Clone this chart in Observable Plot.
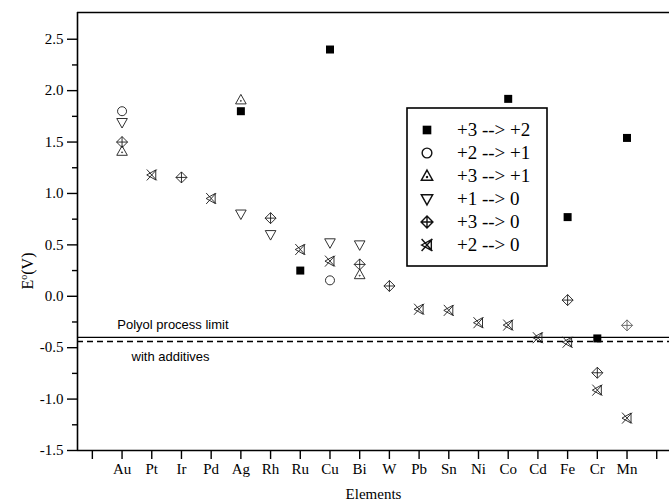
<!DOCTYPE html>
<html>
<head>
<meta charset="utf-8">
<script src="https://cdn.jsdelivr.net/npm/d3@7"></script>
<script src="https://cdn.jsdelivr.net/npm/@observablehq/plot@0.6"></script>
<style>
  html, body { margin: 0; padding: 0; background: #fff; }
  #chart { width: 669px; height: 503px; }
</style>
</head>
<body>
<div id="chart"></div>
<script>
// ---- data ----
const elements = ["Au","Pt","Ir","Pd","Ag","Rh","Ru","Cu","Bi","W","Pb","Sn","Ni","Co","Cd","Fe","Cr","Mn"];
const seriesNames = ["+3 --> +2", "+2 --> +1", "+3 --> +1", "+1 --> 0", "+3 --> 0", "+2 --> 0"];
//                 Au    Pt    Ir     Pd    Ag    Rh    Ru    Cu    Bi    W     Pb     Sn     Ni     Co     Cd     Fe     Cr     Mn
const s3to2  = [null, null, null,  null, 1.80, null, 0.25, 2.40, null, null, null,  null,  null,  1.92,  null,  0.77,  -0.41, 1.54];
const s2to1  = [1.80, null, null,  null, null, null, null, 0.155,null, null, null,  null,  null,  null,  null,  null,  null,  null];
const s3to1  = [1.41, null, null,  null, 1.91, null, null, null, 0.21, null, null,  null,  null,  null,  null,  null,  null,  null];
const s1to0  = [1.69, null, null,  null, 0.80, 0.60, null, 0.52, 0.50, null, null,  null,  null,  null,  null,  null,  null,  null];
const s3to0  = [1.50, null, 1.156, null, null, 0.76, null, null, 0.31, 0.10, null,  null,  null,  null,  null,  -0.037,-0.744,-0.283];
const s2to0  = [null, 1.18, null,  0.951,null, null, 0.455,0.342,null, null, -0.126,-0.137,-0.257,-0.28, -0.403,-0.447,-0.913,-1.185];
const polyolLimit = -0.40;
const additivesLimit = -0.44;
const yMajorTicks = [-1.5, -1.0, -0.5, 0.0, 0.5, 1.0, 1.5, 2.0, 2.5];
const yMinorTicks = [-1.25, -0.75, -0.25, 0.25, 0.75, 1.25, 1.75, 2.25];

const seriesValues = [s3to2, s2to1, s3to1, s1to0, s3to0, s2to0];

function rows(vals) {
  const out = [];
  vals.forEach((v, i) => { if (v != null) out.push({x: i + 1, y: v, el: elements[i]}); });
  return out;
}

const SERIF = "'Liberation Serif', 'Times New Roman', serif";
const SANS = "'Liberation Sans', Arial, sans-serif";

// ---- symbols ----
const symSquare = { draw(c) { c.rect(-4, -4, 8, 8); } };
const symCircle = { draw(c) { c.moveTo(4.5, 0); c.arc(0, 0, 4.5, 0, 2 * Math.PI); c.closePath(); } };
const symUp = { draw(c) {
  c.moveTo(0, -5.5); c.lineTo(5.3, 4); c.lineTo(-5.3, 4); c.closePath();
  c.moveTo(0.5, 1); c.arc(0, 1, 0.5, 0, 2 * Math.PI);
} };
const symDown = { draw(c) { c.moveTo(0, 5.5); c.lineTo(5.3, -4); c.lineTo(-5.3, -4); c.closePath(); } };
const symDiamondCross = { draw(c) {
  c.moveTo(0, -5.5); c.lineTo(5.5, 0); c.lineTo(0, 5.5); c.lineTo(-5.5, 0); c.closePath();
  c.moveTo(-5.5, 0); c.lineTo(5.5, 0);
  c.moveTo(0, -5.5); c.lineTo(0, 5.5);
} };
const symXTri = { draw(c) {
  c.moveTo(-5, -5.5); c.lineTo(5, 5.5);
  c.moveTo(5, -5.5); c.lineTo(-5, 5.5);
  c.moveTo(-5, 0); c.lineTo(4, -5); c.lineTo(4, 5); c.closePath();
} };
const symbols = [symSquare, symCircle, symUp, symDown, symDiamondCross, symXTri];

const dotMarks = seriesValues.map((vals, k) =>
  Plot.dot(rows(vals), {
    x: "x", y: "y", symbol: () => symbols[k], r: 5,
    fill: k === 0 ? "black" : "none",
    stroke: k === 0 ? "none" : (d => (k === 4 && d.el === "Mn") ? "#5a5a5a" : "#1a1a1a"),
    strokeWidth: 0.9
  })
);

const plot = Plot.plot({
  width: 669,
  height: 503,
  marginLeft: 77,
  marginRight: 0,
  marginTop: 12,
  marginBottom: 53,
  x: { domain: [-0.5, 19.43] },
  y: { domain: [-1.5, 2.76] },
  style: { fontFamily: SERIF, fontSize: "15px", background: "white", color: "black", overflow: "visible" },
  marks: [
    Plot.ruleY([polyolLimit], { stroke: "black", strokeWidth: 1.3 }),
    Plot.ruleY([additivesLimit], { stroke: "black", strokeWidth: 1.3, strokeDasharray: "6,4" }),
    Plot.text(["Polyol process limit"], { x: 0.84, y: polyolLimit, dy: -13, text: d => d, textAnchor: "start", fontFamily: SANS, fontSize: 13 }),
    Plot.text(["with additives"], { x: 1.32, y: additivesLimit, dy: 15, text: d => d, textAnchor: "start", fontFamily: SANS, fontSize: 13 }),
    ...dotMarks,
    Plot.axisY({ ticks: yMinorTicks, tickSize: 5, tickFormat: () => "", label: null, strokeWidth: 1.4 }),
    Plot.axisY({ ticks: yMajorTicks, tickSize: 10, tickPadding: 4, tickFormat: d => d.toFixed(1), label: null, strokeWidth: 1.4, fontSize: 15, fontFamily: SERIF }),
    Plot.axisX({ ticks: d3.range(0, 20), tickSize: 9, tickPadding: 4, tickFormat: i => elements[i - 1] ?? "", label: "Elements", labelAnchor: "center", labelArrow: "none", labelOffset: 48, strokeWidth: 1.4, fontSize: 15, fontFamily: SERIF }),
    Plot.ruleX([-0.5], { stroke: "black", strokeWidth: 1.6 }),
    Plot.ruleY([-1.5, 2.76], { stroke: "black", strokeWidth: 1.6 })
  ]
});

document.getElementById("chart").appendChild(plot);

// ---- y label and legend (drawn into the same svg) ----
const svg = d3.select(plot);
const yl = svg.append("text")
  .attr("transform", "translate(33,271) rotate(-90)")
  .attr("text-anchor", "middle")
  .style("font-family", SERIF)
  .style("font-size", "16px")
  .attr("fill", "black");
yl.append("tspan").text("E");
yl.append("tspan").style("font-size", "10px").attr("dy", -6).text("o");
yl.append("tspan").attr("dy", 6).text("(V)");

const lg = svg.append("g");
lg.append("rect").attr("x", 407).attr("y", 108).attr("width", 140).attr("height", 158)
  .attr("fill", "white").attr("stroke", "black").attr("stroke-width", 1.6);
seriesNames.forEach((name, k) => {
  const cy = 130 + 23 * k;
  lg.append("path")
    .attr("transform", `translate(427,${cy}) scale(1.08)`)
    .attr("d", d3.symbol(symbols[k])())
    .attr("fill", k === 0 ? "black" : "none")
    .attr("stroke", k === 0 ? "none" : "#111")
    .attr("stroke-width", 1.3);
  lg.append("text").attr("x", 457).attr("y", cy + 6)
    .attr("text-anchor", "start")
    .style("font-family", SERIF)
    .style("font-size", "19px")
    .attr("fill", "black")
    .text(name);
});
</script>
</body>
</html>
